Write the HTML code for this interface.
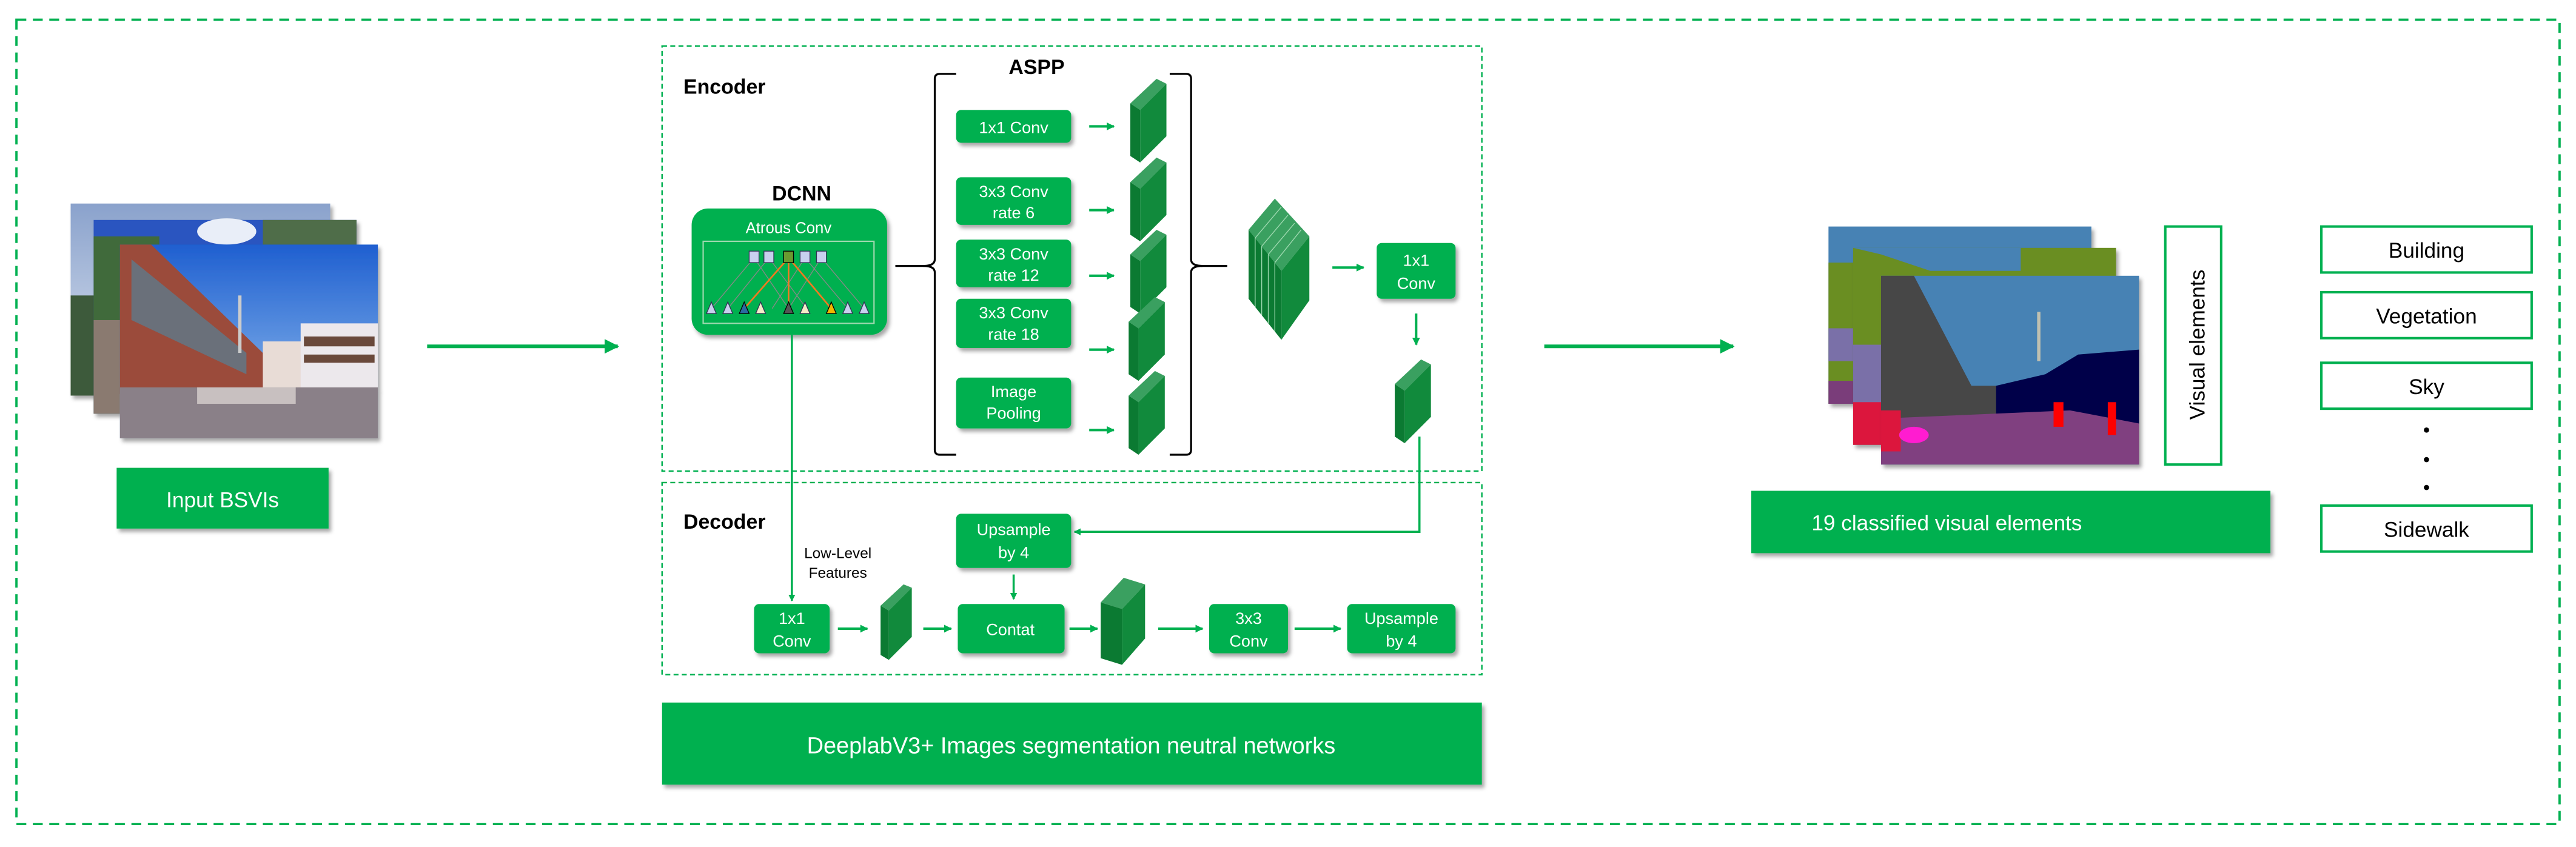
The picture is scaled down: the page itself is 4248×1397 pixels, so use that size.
<!DOCTYPE html>
<html><head><meta charset="utf-8"><style>
html,body{margin:0;padding:0;background:#fff;}
svg{display:block;}
text{font-family:"Liberation Sans",Arial,sans-serif;}
</style></head><body>
<svg width="4248" height="1397" viewBox="0 0 1568 516" preserveAspectRatio="none" xmlns="http://www.w3.org/2000/svg">
<defs>
<marker id="ah" viewBox="0 0 10 10" refX="9" refY="5" markerWidth="4" markerHeight="4" orient="auto"><path d="M0,0L10,5L0,10z" fill="#00b050"/></marker>
<marker id="ahb" viewBox="0 0 10 10" refX="9" refY="5" markerWidth="3.2" markerHeight="3.2" orient="auto"><path d="M0,0L10,5L0,10z" fill="#00b050"/></marker>
<filter id="sh" x="-10%" y="-10%" width="130%" height="140%"><feDropShadow dx="1.5" dy="2" stdDeviation="1.2" flood-color="#000" flood-opacity="0.35"/></filter>
<linearGradient id="sky" x1="0" y1="0" x2="0" y2="1"><stop offset="0" stop-color="#1f5fd0"/><stop offset="1" stop-color="#9cc7f0"/></linearGradient>
<linearGradient id="sky2" x1="0" y1="0" x2="0" y2="1"><stop offset="0" stop-color="#8aa2cc"/><stop offset="1" stop-color="#dfe6f2"/></linearGradient>
</defs>
<rect x="10" y="12" width="1548" height="490" fill="none" stroke="#00b050" stroke-width="1.4" stroke-dasharray="6,4"/>

<g filter="url(#sh)">
<rect x="43" y="124" width="158" height="117" fill="url(#sky2)"/>
<rect x="43" y="180" width="40" height="61" fill="#3e5a3a"/>
</g>
<g filter="url(#sh)">
<rect x="57" y="134" width="160" height="118" fill="#2a55c0"/>
<ellipse cx="138" cy="141" rx="18" ry="8" fill="#e9eef8"/>
<rect x="57" y="144" width="40" height="108" fill="#3f6a3a"/>
<rect x="160" y="134" width="57" height="30" fill="#4f6d4a"/>
<rect x="57" y="195" width="40" height="57" fill="#8a7a70"/>
</g>
<g filter="url(#sh)">
<rect x="73" y="149" width="157" height="118" fill="url(#sky)"/>
<polygon points="73,149 92,149 160,215 160,240 73,240" fill="#9b4b3a"/>
<polygon points="80,158 150,215 150,228 80,195" fill="#6b6f7a"/>
<rect x="160" y="208" width="30" height="30" fill="#e8dcd6"/>
<rect x="183" y="197" width="47" height="42" fill="#ece8ec"/>
<rect x="185" y="205" width="43" height="6" fill="#6a4a3a"/>
<rect x="185" y="216" width="43" height="5" fill="#6a4a3a"/>
<rect x="145" y="180" width="2" height="35" fill="#ccc"/>
<rect x="73" y="236" width="157" height="31" fill="#8a8088"/>
<rect x="120" y="236" width="60" height="10" fill="#c8c0c0"/>
</g>
<rect x="71" y="285" width="129" height="37" fill="#00b050" filter="url(#sh)"/>
<text x="135.5" y="309" font-size="13" fill="#fff" text-anchor="middle">Input BSVIs</text>

<line x1="260" y1="211" x2="376" y2="211" stroke="#00b050" stroke-width="2.2" marker-end="url(#ah)"/>

<rect x="403" y="28" width="499" height="259" fill="none" stroke="#00b050" stroke-width="0.9" stroke-dasharray="3,2"/>
<rect x="403" y="294" width="499" height="117" fill="none" stroke="#00b050" stroke-width="0.9" stroke-dasharray="3,2"/>
<text x="416" y="57" font-size="12.5" font-weight="bold" fill="#000">Encoder</text>
<text x="631" y="45" font-size="12.5" font-weight="bold" fill="#000" text-anchor="middle">ASPP</text>
<text x="488" y="122" font-size="12.5" font-weight="bold" fill="#000" text-anchor="middle">DCNN</text>
<text x="416" y="322" font-size="12.5" font-weight="bold" fill="#000">Decoder</text>

<rect x="421" y="127" width="119" height="77" rx="10" fill="#00b050" filter="url(#sh)"/>
<text x="480" y="142" font-size="9.5" fill="#fff" text-anchor="middle">Atrous Conv</text>
<rect x="428" y="147" width="104" height="50" fill="none" stroke="#9fd9b0" stroke-width="0.8"/>
<g stroke="#888" stroke-width="0.5">
<line x1="459" y1="157" x2="433" y2="188"/><line x1="459" y1="157" x2="480" y2="188"/>
<line x1="468" y1="157" x2="443" y2="188"/><line x1="468" y1="157" x2="491" y2="188"/>
<line x1="490" y1="157" x2="470" y2="188"/><line x1="490" y1="157" x2="516" y2="188"/>
<line x1="500" y1="157" x2="480" y2="188"/><line x1="500" y1="157" x2="526" y2="188"/>
</g>
<g stroke="#f07a20" stroke-width="1"><line x1="480" y1="157" x2="453" y2="188"/><line x1="480" y1="157" x2="480" y2="188"/><line x1="480" y1="157" x2="506" y2="188"/></g>
<g fill="#c8d0ee" stroke="#335" stroke-width="0.5">
<rect x="456" y="153" width="6" height="7"/><rect x="465" y="153" width="6" height="7"/><rect x="477" y="153" width="6" height="7" fill="#6a9a30" stroke="#000"/><rect x="487" y="153" width="6" height="7"/><rect x="497" y="153" width="6" height="7"/>
</g>
<g fill="#c8d0ee" stroke="#335" stroke-width="0.5">
<polygon points="433,184 430,191 436,191"/><polygon points="443,184 440,191 446,191"/><polygon points="453,184 450,191 456,191" fill="#2a6aa0" stroke="#000"/><polygon points="463,184 460,191 466,191" fill="#f4ecc8"/><polygon points="480,184 477,191 483,191" fill="#555" stroke="#000"/><polygon points="490,184 487,191 493,191" fill="#f4ecc8"/><polygon points="506,184 503,191 509,191" fill="#f0b800" stroke="#000"/><polygon points="516,184 513,191 519,191"/><polygon points="526,184 523,191 529,191"/>
</g>

<path d="M582,45 L572,45 Q569,45 569,48 L569,158 Q569,162 562,162 Q569,162 569,166 L569,274 Q569,277 572,277 L582,277" fill="none" stroke="#000" stroke-width="1.2"/>
<path d="M712,45 L722,45 Q725,45 725,48 L725,158 Q725,162 732,162 Q725,162 725,166 L725,274 Q725,277 722,277 L712,277" fill="none" stroke="#000" stroke-width="1.2"/>
<line x1="545" y1="162" x2="563" y2="162" stroke="#000" stroke-width="1.2"/>
<line x1="731" y1="162" x2="747" y2="162" stroke="#000" stroke-width="1.2"/>

<g fill="#00b050" filter="url(#sh)">
<rect x="582" y="67" width="70" height="20" rx="3"/>
<rect x="582" y="108" width="70" height="29" rx="3"/>
<rect x="582" y="146" width="70" height="29" rx="3"/>
<rect x="582" y="182" width="70" height="30" rx="3"/>
<rect x="582" y="230" width="70" height="31" rx="3"/>
</g>
<g font-size="10" fill="#fff" text-anchor="middle">
<text x="617" y="81">1x1 Conv</text>
<text x="617" y="120">3x3 Conv</text><text x="617" y="133">rate 6</text>
<text x="617" y="158">3x3 Conv</text><text x="617" y="171">rate 12</text>
<text x="617" y="194">3x3 Conv</text><text x="617" y="207">rate 18</text>
<text x="617" y="242">Image</text><text x="617" y="255">Pooling</text>
</g>
<g stroke="#00b050" stroke-width="1.5" marker-end="url(#ahb)">
<line x1="663" y1="77" x2="678" y2="77"/><line x1="663" y1="128" x2="678" y2="128"/><line x1="663" y1="168" x2="678" y2="168"/><line x1="663" y1="213" x2="678" y2="213"/><line x1="663" y1="262" x2="678" y2="262"/>
</g>

<g>
<g transform="translate(688,51)"><polygon points="0,12 16,-3 22,0 6,16" fill="#3aa060"/><polygon points="6,16 22,0 22,32 6,48" fill="#118a3c"/><polygon points="0,12 6,16 6,48 0,44" fill="#0b7a32"/></g>
<g transform="translate(688,99)"><polygon points="0,12 16,-3 22,0 6,16" fill="#3aa060"/><polygon points="6,16 22,0 22,32 6,48" fill="#118a3c"/><polygon points="0,12 6,16 6,48 0,44" fill="#0b7a32"/></g>
<g transform="translate(688,143)"><polygon points="0,12 16,-3 22,0 6,16" fill="#3aa060"/><polygon points="6,16 22,0 22,32 6,48" fill="#118a3c"/><polygon points="0,12 6,16 6,48 0,44" fill="#0b7a32"/></g>
<g transform="translate(687,184)"><polygon points="0,12 16,-3 22,0 6,16" fill="#3aa060"/><polygon points="6,16 22,0 22,32 6,48" fill="#118a3c"/><polygon points="0,12 6,16 6,48 0,44" fill="#0b7a32"/></g>
<g transform="translate(687,229)"><polygon points="0,12 16,-3 22,0 6,16" fill="#3aa060"/><polygon points="6,16 22,0 22,32 6,48" fill="#118a3c"/><polygon points="0,12 6,16 6,48 0,44" fill="#0b7a32"/></g>
</g>
<g>
<polygon points="760,140 776,121 797,144 780,165" fill="#3aa060"/>
<polygon points="780,165 797,144 797,183 780,207" fill="#118a3c"/>
<polygon points="760,140 780,165 780,207 760,182" fill="#0b7a32"/>
<g stroke="#9fd9b0" stroke-width="0.5"><line x1="764" y1="145" x2="780" y2="126"/><line x1="768" y1="150" x2="784" y2="131"/><line x1="772" y1="155" x2="788" y2="136"/><line x1="776" y1="160" x2="792" y2="140"/>
<line x1="764" y1="145" x2="764" y2="187"/><line x1="768" y1="150" x2="768" y2="192"/><line x1="772" y1="155" x2="772" y2="197"/><line x1="776" y1="160" x2="776" y2="202"/></g>
</g>
<line x1="811" y1="163" x2="830" y2="163" stroke="#00b050" stroke-width="1.5" marker-end="url(#ahb)"/>
<rect x="838" y="148" width="48" height="34" rx="3" fill="#00b050" filter="url(#sh)"/>
<text x="862" y="162" font-size="10" fill="#fff" text-anchor="middle">1x1</text>
<text x="862" y="176" font-size="10" fill="#fff" text-anchor="middle">Conv</text>
<line x1="862" y1="191" x2="862" y2="210" stroke="#00b050" stroke-width="1.5" marker-end="url(#ahb)"/>
<g transform="translate(849,222)"><polygon points="0,12 16,-3 22,0 6,16" fill="#3aa060"/><polygon points="6,16 22,0 22,32 6,48" fill="#118a3c"/><polygon points="0,12 6,16 6,48 0,44" fill="#0b7a32"/></g>

<polyline points="864,266 864,324 654,324" fill="none" stroke="#00b050" stroke-width="1.3" marker-end="url(#ahb)"/>
<line x1="482" y1="204" x2="482" y2="366" stroke="#00b050" stroke-width="1.3" marker-end="url(#ahb)"/>
<text x="510" y="340" font-size="9" fill="#000" text-anchor="middle">Low-Level</text>
<text x="510" y="352" font-size="9" fill="#000" text-anchor="middle">Features</text>

<g fill="#00b050" filter="url(#sh)">
<rect x="582" y="313" width="70" height="33" rx="3"/>
<rect x="459" y="368" width="46" height="30" rx="3"/>
<rect x="583" y="368" width="65" height="30" rx="3"/>
<rect x="736" y="368" width="48" height="30" rx="3"/>
<rect x="820" y="368" width="66" height="30" rx="3"/>
</g>
<g font-size="10" fill="#fff" text-anchor="middle">
<text x="617" y="326">Upsample</text><text x="617" y="340">by 4</text>
<text x="482" y="380">1x1</text><text x="482" y="394">Conv</text>
<text x="615" y="387">Contat</text>
<text x="760" y="380">3x3</text><text x="760" y="394">Conv</text>
<text x="853" y="380">Upsample</text><text x="853" y="394">by 4</text>
</g>
<line x1="617" y1="350" x2="617" y2="365" stroke="#00b050" stroke-width="1.3" marker-end="url(#ahb)"/>
<g stroke="#00b050" stroke-width="1.5" marker-end="url(#ahb)">
<line x1="510" y1="383" x2="528" y2="383"/>
<line x1="562" y1="383" x2="579" y2="383"/>
<line x1="651" y1="383" x2="668" y2="383"/>
<line x1="705" y1="383" x2="732" y2="383"/>
<line x1="788" y1="383" x2="816" y2="383"/>
</g>
<g transform="translate(536,358)"><polygon points="0,11 14,-2 19,0 5,14" fill="#3aa060"/><polygon points="5,14 19,0 19,30 5,44" fill="#118a3c"/><polygon points="0,11 5,14 5,44 0,41" fill="#0b7a32"/></g>
<g transform="translate(670,354)"><polygon points="0,13 14,-2 27,2 13,17" fill="#3aa060"/><polygon points="13,17 27,2 27,35 13,51" fill="#118a3c"/><polygon points="0,13 13,17 13,51 0,47" fill="#0b7a32"/></g>

<rect x="403" y="428" width="499" height="50" fill="#00b050" filter="url(#sh)"/>
<text x="652" y="459" font-size="14" fill="#fff" text-anchor="middle">DeeplabV3+ Images segmentation neutral networks</text>

<line x1="940" y1="211" x2="1055" y2="211" stroke="#00b050" stroke-width="2.2" marker-end="url(#ah)"/>

<g filter="url(#sh)">
<rect x="1113" y="138" width="160" height="108" fill="#4682b4"/>
<rect x="1113" y="160" width="15" height="86" fill="#6b8e23"/>
<rect x="1113" y="200" width="15" height="20" fill="#7a6fa8"/>
<rect x="1113" y="232" width="15" height="14" fill="#7a3c7a"/>
</g>
<g filter="url(#sh)">
<rect x="1128" y="151" width="160" height="120" fill="#6b8e23"/>
<polygon points="1128,151 1230,151 1230,165 1175,165 1145,155" fill="#4682b4"/>
<rect x="1128" y="210" width="20" height="61" fill="#7a6fa8"/>
<rect x="1128" y="245" width="20" height="26" fill="#dc143c"/>
</g>
<g filter="url(#sh)">
<rect x="1145" y="168" width="157" height="115" fill="#4682b4"/>
<polygon points="1145,168 1165,168 1200,235 1302,235 1302,283 1145,283" fill="#464646"/>
<polygon points="1215,235 1245,228 1265,216 1302,213 1302,258 1215,258" fill="#00004a"/>
<polygon points="1145,255 1260,250 1302,258 1302,283 1145,283" fill="#804080"/>
<rect x="1145" y="250" width="12" height="25" fill="#dc143c"/>
<ellipse cx="1165" cy="265" rx="9" ry="5" fill="#ff1fd0"/>
<rect x="1250" y="245" width="6" height="15" fill="#f00"/>
<rect x="1283" y="245" width="5" height="20" fill="#f00"/>
<rect x="1240" y="190" width="2" height="30" fill="#c0c0b0"/>
</g>
<rect x="1318" y="138" width="34" height="145" fill="#fff" stroke="#00b050" stroke-width="1.5"/>
<text transform="translate(1342,210) rotate(-90)" font-size="13" fill="#000" text-anchor="middle">Visual elements</text>

<rect x="1066" y="299" width="316" height="38" fill="#00b050" filter="url(#sh)"/>
<text x="1185" y="323" font-size="13" fill="#fff" text-anchor="middle">19 classified visual elements</text>

<g fill="#fff" stroke="#00b050" stroke-width="1.5">
<rect x="1413" y="138" width="128" height="28"/>
<rect x="1413" y="178" width="128" height="28"/>
<rect x="1413" y="221" width="128" height="28"/>
<rect x="1413" y="308" width="128" height="28"/>
</g>
<g font-size="13" fill="#000" text-anchor="middle">
<text x="1477" y="157">Building</text>
<text x="1477" y="197">Vegetation</text>
<text x="1477" y="240">Sky</text>
<text x="1477" y="327">Sidewalk</text>
</g>
<g fill="#000"><circle cx="1477" cy="262" r="1.6"/><circle cx="1477" cy="280" r="1.6"/><circle cx="1477" cy="297" r="1.6"/></g>
</svg>
</body></html>
